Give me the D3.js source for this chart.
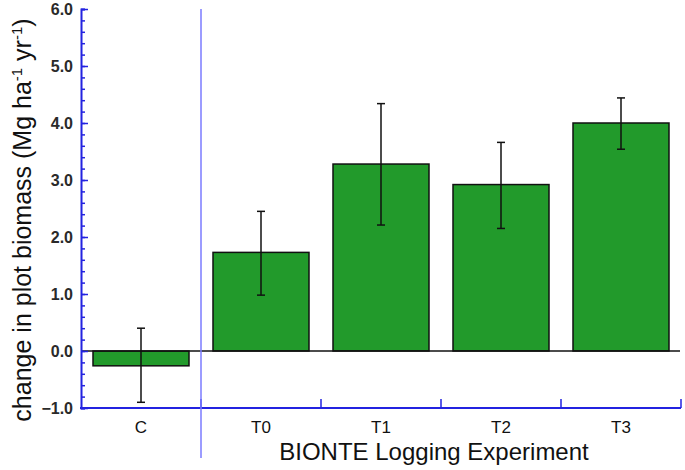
<!DOCTYPE html>
<html><head><meta charset="utf-8">
<script src="https://cdn.jsdelivr.net/npm/d3@7"></script>
<style>body{margin:0;background:#fff;} svg{display:block;font-family:"Liberation Sans",Arial,sans-serif;}</style>
</head><body>
<svg id="c" width="685" height="470"></svg>
<script>
const categories = ["C","T0","T1","T2","T3"];
const means = [-0.26, 1.73, 3.28, 2.92, 4.00];
const errLow = [-0.90, 0.98, 2.21, 2.15, 3.54];
const errHigh = [0.40, 2.45, 4.34, 3.66, 4.44];
const yTicks = [-1, 0, 1, 2, 3, 4, 5, 6];

(function(){
const svg = d3.select("#c");
const pL = 81, pR = 681, pT = 9, pB = 408;
const x = d3.scaleBand().domain(categories).range([pL, pR]).paddingInner(0.2).paddingOuter(0.1);
const y = d3.scaleLinear().domain([-1, 6]).range([pB, pT]);
const axisCol = "#2323e0";

// bars
svg.append("g").selectAll("rect").data(categories).join("rect")
  .attr("x", d => x(d))
  .attr("width", x.bandwidth())
  .attr("y", (d,i) => y(Math.max(0, means[i])))
  .attr("height", (d,i) => Math.abs(y(means[i]) - y(0)))
  .attr("fill", "#229a2b").attr("stroke", "#111").attr("stroke-width", 1.5);

// zero line
svg.append("line").attr("x1", pL).attr("x2", pR - 1).attr("y1", y(0)).attr("y2", y(0))
  .attr("stroke", "#111").attr("stroke-width", 1.5);

// error bars
const eb = svg.append("g").attr("stroke", "#111").attr("stroke-width", 1.5);
categories.forEach((c, i) => {
  const cx = x(c) + x.bandwidth() / 2;
  eb.append("line").attr("x1", cx).attr("x2", cx).attr("y1", y(errLow[i])).attr("y2", y(errHigh[i]));
  [errLow[i], errHigh[i]].forEach(v => eb.append("line").attr("x1", cx - 4).attr("x2", cx + 4).attr("y1", y(v)).attr("y2", y(v)));
});

// y axis (ticks inside)
const ya = svg.append("g").attr("transform", `translate(${pL},0)`)
  .call(d3.axisRight(y).tickValues(d3.range(-1, 6.01, 0.2)).tickSize(4).tickFormat(""));
ya.selectAll("line").attr("stroke", axisCol).attr("stroke-width", 1.5);
ya.select(".domain").attr("stroke", axisCol).attr("stroke-width", 2);
const ym = svg.append("g").attr("transform", `translate(${pL},0)`)
  .call(d3.axisRight(y).tickValues(yTicks).tickSize(7).tickFormat(""));
ym.selectAll("line").attr("stroke", axisCol).attr("stroke-width", 1.5);
ym.select(".domain").remove();
svg.append("g").selectAll("text").data(yTicks).join("text")
  .attr("x", pL - 8).attr("y", d => y(d)).attr("dy", "0.35em")
  .attr("text-anchor", "end").attr("font-size", 16).attr("font-weight", "bold").attr("fill", "#2a2a2a")
  .text(d => d3.format(".1f")(d));

// x axis
svg.append("line").attr("x1", pL - 1).attr("x2", pR).attr("y1", pB).attr("y2", pB)
  .attr("stroke", axisCol).attr("stroke-width", 2);
const bounds = categories.map(c => x(c) - x.step() * x.paddingInner() / 2 + x.step());
svg.append("g").selectAll("line").data(bounds).join("line")
  .attr("x1", d => d).attr("x2", d => d).attr("y1", pB).attr("y2", pB - 9)
  .attr("stroke", axisCol).attr("stroke-width", 1.5);
svg.append("g").selectAll("text").data(categories).join("text")
  .attr("x", d => x(d) + x.bandwidth() / 2).attr("y", 433)
  .attr("text-anchor", "middle").attr("font-size", 17).attr("fill", "#111").text(d => d);

// divider between control and treatments
svg.append("line").attr("x1", bounds[0]).attr("x2", bounds[0]).attr("y1", pT).attr("y2", 458)
  .attr("stroke", "#7b7bff").attr("stroke-width", 1.5);

// titles
svg.append("text").attr("x", 434).attr("y", 460).attr("text-anchor", "middle")
  .attr("font-size", 24).attr("fill", "#111").text("BIONTE Logging Experiment");
const yt = svg.append("text").attr("transform", "translate(31,220) rotate(-90)")
  .attr("text-anchor", "middle").attr("font-size", 25).attr("fill", "#111");
yt.append("tspan").text("change in plot biomass  (Mg ha");
yt.append("tspan").attr("dy", -9).attr("font-size", 15).text("-1");
yt.append("tspan").attr("dy", 9).text(" yr");
yt.append("tspan").attr("dy", -9).attr("font-size", 15).text("-1");
yt.append("tspan").attr("dy", 9).text(")");
})();
</script>
</body></html>
